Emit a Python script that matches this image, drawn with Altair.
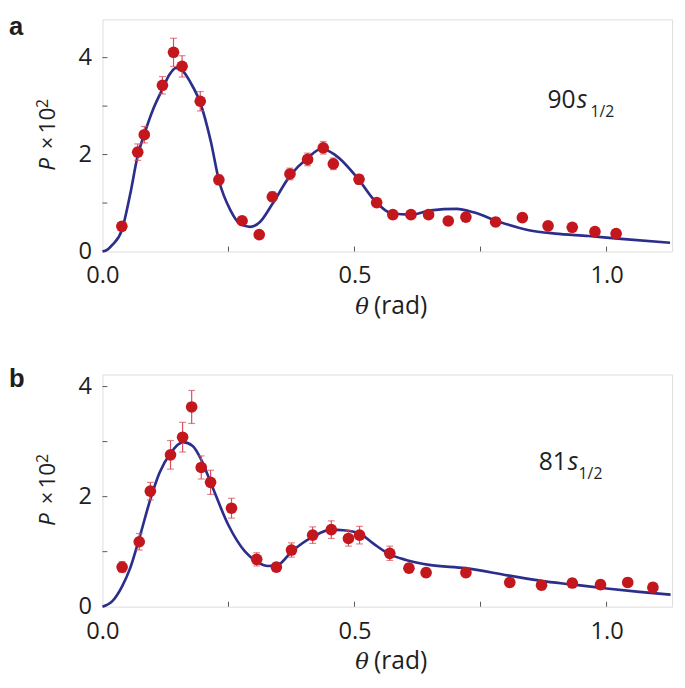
import altair as alt
import pandas as pd

# ---------------- Panel a data (90 s1/2) ----------------
a_theta = [0.0385, 0.070, 0.083, 0.119, 0.141, 0.158, 0.194, 0.231, 0.277, 0.311,
           0.337, 0.372, 0.407, 0.438, 0.458, 0.509, 0.544, 0.576, 0.612, 0.647,
           0.686, 0.721, 0.780, 0.833, 0.884, 0.932, 0.977, 1.019]
a_P = [0.52, 2.05, 2.41, 3.43, 4.11, 3.82, 3.10, 1.48, 0.635, 0.35,
       1.13, 1.60, 1.90, 2.14, 1.81, 1.49, 1.01, 0.76, 0.76, 0.76,
       0.63, 0.71, 0.61, 0.70, 0.53, 0.50, 0.41, 0.37]
a_err = [0.08, 0.17, 0.17, 0.18, 0.29, 0.22, 0.20, 0.10, 0.08, 0.07,
         0.10, 0.12, 0.13, 0.13, 0.12, 0.10, 0.08, 0.08, 0.08, 0.08,
         0.08, 0.08, 0.08, 0.08, 0.08, 0.08, 0.08, 0.08]
a_fit_theta = [0, 0.01, 0.02, 0.0385, 0.055, 0.07, 0.083, 0.10, 0.119, 0.133, 0.146,
               0.16, 0.175, 0.194, 0.215, 0.231, 0.254, 0.273, 0.293, 0.3125, 0.337,
               0.372, 0.407, 0.435, 0.462, 0.508, 0.540, 0.573, 0.612, 0.651, 0.703,
               0.736, 0.788, 0.846, 0.898, 0.964, 1.029, 1.126]
a_fit_P = [0, 0.04, 0.14, 0.44, 1.18, 1.98, 2.42, 2.92, 3.35, 3.65, 3.79,
           3.72, 3.48, 3.07, 2.27, 1.47, 0.85, 0.57, 0.51, 0.61, 0.98,
           1.56, 1.93, 2.12, 1.99, 1.49, 1.05, 0.79, 0.76, 0.85, 0.88,
           0.81, 0.61, 0.44, 0.37, 0.32, 0.26, 0.18]

# ---------------- Panel b data (81 s1/2) ----------------
b_theta = [0.039, 0.073, 0.095, 0.135, 0.159, 0.177, 0.196, 0.2145, 0.256, 0.306,
           0.345, 0.375, 0.417, 0.454, 0.488, 0.510, 0.570, 0.608, 0.642, 0.721,
           0.808, 0.871, 0.932, 0.988, 1.042, 1.092]
b_P = [0.72, 1.18, 2.10, 2.76, 3.08, 3.63, 2.53, 2.26, 1.79, 0.86,
       0.72, 1.03, 1.30, 1.40, 1.24, 1.30, 0.97, 0.70, 0.62, 0.62,
       0.44, 0.39, 0.43, 0.40, 0.44, 0.35]
b_err = [0.10, 0.15, 0.16, 0.26, 0.27, 0.30, 0.21, 0.22, 0.18, 0.12,
         0.08, 0.13, 0.15, 0.16, 0.14, 0.16, 0.13, 0.08, 0.08, 0.08,
         0.08, 0.08, 0.08, 0.08, 0.08, 0.08]
b_fit_theta = [0, 0.0196, 0.039, 0.055, 0.073, 0.095, 0.113, 0.135, 0.160, 0.179,
               0.196, 0.215, 0.250, 0.283, 0.306, 0.329, 0.348, 0.375, 0.417, 0.454,
               0.478, 0.510, 0.537, 0.570, 0.602, 0.648, 0.720, 0.804, 0.870, 0.935,
               1.0, 1.065, 1.127]
b_fit_P = [0, 0.10, 0.37, 0.70, 1.24, 1.95, 2.43, 2.79, 2.99, 2.92,
           2.67, 2.25, 1.48, 1.00, 0.82, 0.74, 0.76, 1.00, 1.27, 1.40,
           1.39, 1.33, 1.15, 0.95, 0.85, 0.76, 0.70, 0.57, 0.47, 0.40,
           0.33, 0.27, 0.22]

x_label_values = [0.0, 0.5, 1.0]
x_tick_values = [0.25, 0.5, 0.75, 1.0]
y_label_values = [0, 2, 4]
y_tick_values = [1, 2, 3, 4]

W = 579
H = 236
FONT = "Open Sans"
DOT = "#c3161d"
LINE = "#2c2e8c"
ERR = "#d4505c"
TXT = "#1e1e1e"


def txt(text, x, y, size, style="normal", weight="normal", font=FONT,
        angle=0, align="left"):
    return alt.Chart(alt.Data(values=[{}])).mark_text(
        text=text, fontSize=size, fontStyle=style, fontWeight=weight,
        font=font, angle=angle, align=align, baseline="alphabetic",
        color=TXT
    ).encode(x=alt.value(x), y=alt.value(y))


def panel(th, P, err, fth, fP, ymax, letter, letter_y, num, num_r, s_x,
          sub_x, ann_y, xt_y):
    df = pd.DataFrame({"theta": th, "P": P, "err": err})
    df["lo"] = df["P"] - df["err"]
    df["hi"] = df["P"] + df["err"]
    fit = pd.DataFrame({"theta": fth, "P": fP})

    xs = alt.Scale(domain=[0, 1.13], nice=False, zero=False)
    ys = alt.Scale(domain=[0, ymax], nice=False, zero=False)
    xax = alt.Axis(values=x_label_values, format=".1f", title=None,
                   ticks=False, domain=False, grid=False, labelFlush=False,
                   labelFontSize=24, labelFont=FONT, labelColor=TXT,
                   labelPadding=13)
    yax = alt.Axis(values=y_label_values, format="d", title=None,
                   ticks=False, domain=False, grid=False, labelFlush=False,
                   labelFontSize=24, labelFont=FONT, labelColor=TXT,
                   labelPadding=11)

    line = alt.Chart(fit).mark_line(color=LINE, strokeWidth=2.7,
                                    interpolate="monotone").encode(
        x=alt.X("theta:Q", scale=xs, axis=xax),
        y=alt.Y("P:Q", scale=ys, axis=yax),
    )
    bars = alt.Chart(df).mark_rule(color=ERR, strokeWidth=1.2).encode(
        x="theta:Q", y="lo:Q", y2="hi:Q")
    cap_lo = alt.Chart(df).mark_tick(color=ERR, orient="horizontal",
                                     size=7, thickness=1.2).encode(
        x="theta:Q", y="lo:Q")
    cap_hi = alt.Chart(df).mark_tick(color=ERR, orient="horizontal",
                                     size=7, thickness=1.2).encode(
        x="theta:Q", y="hi:Q")
    dots = alt.Chart(df).mark_circle(color=DOT, size=140, opacity=1).encode(
        x="theta:Q", y="P:Q")

    xt = alt.Chart(pd.DataFrame({"t": x_tick_values})).mark_rule(
        color="#555", strokeWidth=1).encode(
        x="t:Q", y=alt.value(H), y2=alt.value(H - 5))
    yt = alt.Chart(pd.DataFrame({"t": y_tick_values})).mark_rule(
        color="#555", strokeWidth=1).encode(
        y="t:Q", x=alt.value(0), x2=alt.value(5))

    c = H / 2
    texts = [
        txt(letter, -95, letter_y, 26, weight="bold", font="Liberation Sans"),
        txt("P", -48, c + 36, 23, style="italic", angle=270),
        txt("×", -48, c + 14, 22, angle=270),
        txt("10", -48, c - 2, 23, angle=270),
        txt("2", -55, c - 28, 16, angle=270),
        txt("θ", 257, H + xt_y, 23, style="italic", font="DejaVu Serif"),
        txt("(rad)", 276, H + xt_y, 25),
        txt(num, num_r, ann_y, 25, align="right"),
        txt("s", s_x, ann_y, 25, style="italic"),
        txt("1/2", sub_x, ann_y + 9, 16),
    ]
    return alt.layer(line, bars, cap_lo, cap_hi, dots, xt, yt,
                     *texts).properties(width=W, height=H)


pa = panel(a_theta, a_P, a_err, a_fit_theta, a_fit_P, 4.79, "a", 16,
           "90", 481, 482, 496, 90, 64)
pb = panel(b_theta, b_P, b_err, b_fit_theta, b_fit_P, 4.22, "b", 13,
           "81", 472, 473, 484, 97, 63)

chart = alt.vconcat(
    pa, pb, spacing=46,
    padding={"left": 0, "top": 0, "right": 0, "bottom": 0},
).configure_view(
    stroke="#6f6f6f", strokeWidth=1.2
).configure(background="white", padding=0)

chart.save("out.html", embed_options={"renderer": "svg", "actions": False})
